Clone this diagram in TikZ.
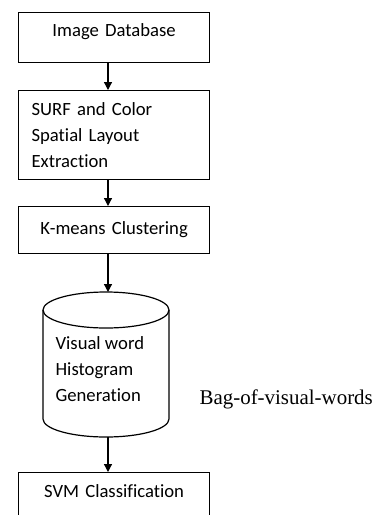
\documentclass[tikz,border=0pt]{standalone}
\usepackage{fontspec}
\setmainfont{Carlito}[Ligatures=NoCommon]
\newfontfamily\timesfont{Liberation Serif}
\usetikzlibrary{arrows.meta}
\begin{document}
\begin{tikzpicture}[x=0.75pt,y=-0.75pt,
  line width=0.9pt,
  flowbox/.style={draw, anchor=north west, inner ysep=0pt,
    minimum width=143.25pt, text width=123.75pt, inner xsep=9.75pt,
    font=\fontsize{14}{19.4}\selectfont},
  flowarrow/.style={-{Triangle[length=6pt,width=6pt]}}]
\useasboundingbox (0,0) rectangle (374,515);
\clip (0,0) rectangle (374,515);

% process boxes
\node[flowbox, align=center, text height=18pt, text depth=19.5pt] (db) at (18,12) {Image Database};
\node[flowbox, align=left, text height=18.75pt, text depth=48pt] (surf) at (18,90)
  {SURF and Color\\Spatial Layout\\Extraction};
\node[flowbox, align=center, text height=21pt, text depth=14.25pt] (km) at (18,206) {K-means Clustering};
\node[flowbox, align=center, text height=18.75pt, text depth=19pt] (svm) at (18,472) {SVM Classification};

% storage cylinder for the histogram stage
\draw (106,310) ellipse [x radius=47.25pt, y radius=13.5pt];
\draw (43,310) -- (43,419) arc [start angle=180, end angle=360, x radius=47.25pt, y radius=13.5pt] -- (169,310);
\node[anchor=base west, align=left, inner sep=0pt, font=\fontsize{14}{19.4}\selectfont] (hist) at (55,401.7)
  {Visual word\\Histogram\\Generation};
\coordinate (cyltop) at (108,292);
\coordinate (cylbot) at (108,437);

% side caption
\node[anchor=base west, inner sep=0pt, font=\timesfont\fontsize{15.7}{18}\selectfont] (bow) at (199,404) {Bag-of-visual-words};

% connectors
\coordinate (ax) at (108,0);
\draw[flowarrow] (db.south -| ax) -- (surf.north -| ax);
\draw[flowarrow] (surf.south -| ax) -- (km.north -| ax);
\draw[flowarrow] (km.south -| ax) -- (cyltop);
\draw[flowarrow] (cylbot) -- (svm.north -| ax);
\end{tikzpicture}
\end{document}
